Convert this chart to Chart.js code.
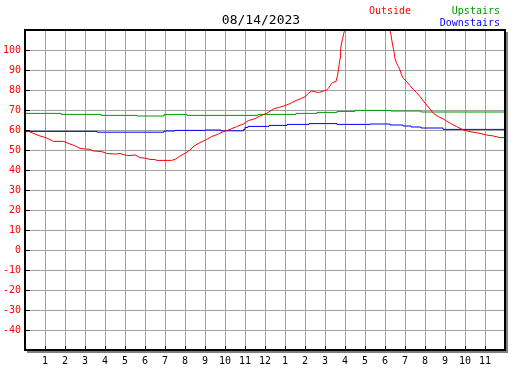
<!DOCTYPE html>
<html>
<head>
<meta charset="utf-8">
<title>08/14/2023</title>
<script src="https://cdn.jsdelivr.net/npm/chart.js@4"></script>
<style>
  body { margin: 0; background: #fff; }
  #wrap { position: relative; width: 527px; height: 370px; font-family: "DejaVu Sans Mono", monospace; }
  canvas { display: block; }
  #title { position: absolute; left: 0; width: 522px; top: 12px; text-align: center; font-size: 13px; line-height: 16px; color: #000; }
  .lg { position: absolute; font-size: 10px; line-height: 12px; }
</style>
</head>
<body>
<div id="wrap">
  <canvas id="chart" width="527" height="370"></canvas>
  <div id="title">08/14/2023</div>
  <div class="lg" style="left:369px; top:5px; color:#f00">Outside</div>
  <div class="lg" style="right:27px; top:5px; color:#090">Upstairs</div>
  <div class="lg" style="right:27px; top:17px; color:#00f">Downstairs</div>
</div>
<script>
// hour of day (0-24) and temperature
const outsideHours = [0, 0.2, 0.42, 0.6, 0.75, 0.9, 1.08, 1.25, 1.42, 1.6, 1.92, 2.1, 2.25, 2.42, 2.58, 2.75, 3, 3.25, 3.42, 3.6, 3.83,
  4.08, 4.3, 4.58, 4.75, 4.9, 5.08, 5.3, 5.5, 5.6, 5.75, 6, 6.25, 6.5, 6.6, 7, 7.33, 7.5, 7.75, 8, 8.25, 8.45, 8.75,
  9.08, 9.33, 9.67, 9.92, 10.25, 10.58, 10.92, 11.17, 11.5, 11.75, 12.08, 12.42, 12.67, 13, 13.25, 13.5, 13.75, 14,
  14.17, 14.33, 14.67, 14.92, 15.08, 15.17, 15.28, 15.38, 15.55, 15.63, 15.67, 15.75, 15.78, 15.88, 15.98, 16.1,
  16.5, 17, 17.5, 18, 18.2, 18.25, 18.3, 18.38, 18.45, 18.5, 18.58, 18.67, 18.75, 18.83, 18.92, 19.08, 19.25, 19.42,
  19.58, 19.75, 19.92, 20.08, 20.25, 20.42, 20.67, 20.92, 21.08, 21.33, 21.58, 21.92, 22.25, 22.75, 23.08, 23.42, 23.75, 24];
const outsideTemp = [60, 59.2, 58.3, 57.6, 57, 56.6, 56, 55.2, 54.3, 54.3, 54.3, 53.6, 53, 52.4, 51.7, 50.8, 50.5, 50.3, 49.5, 49.4, 49.2,
  48.3, 48.1, 48, 48.3, 47.8, 47.3, 47.2, 47.6, 47, 46.2, 45.9, 45.3, 45.2, 44.8, 44.8, 44.8, 45.3, 47, 48.3, 50, 52, 53.7,
  55.3, 56.7, 58, 59.2, 60.3, 61.7, 63, 64.7, 65.7, 67, 68.3, 70.5, 71.2, 72.2, 73.2, 74.5, 75.5, 76.7,
  78.3, 79.5, 78.7, 79.5, 80, 80.8, 82.5, 83.8, 84.2, 87.5, 90, 95.8, 100.8, 105.8, 110, 116,
  124, 128, 126, 118, 111, 110, 107.5, 102.5, 99.2, 95.8, 93.3, 91.7, 90, 87.5, 85.8, 84.2, 82.2, 80.3,
  78.7, 76.7, 74.5, 72.5, 70.5, 68.3, 66.7, 65.5, 64.5, 63, 61.7, 60, 59.2, 58.3, 57.5, 57, 56.2, 56.2];

const upstairsHours = [0, 1.8, 3.8, 5.6, 6.95, 7.3, 8.1, 11.65, 13.55, 14.6, 15.6, 16.5, 18.3, 19.8, 21.1, 24];
const upstairsTemp = [68.8, 68.3, 67.8, 67.3, 67, 67.7, 67.8, 67.3, 67.8, 68.3, 68.8, 69.3, 69.8, 69.5, 69, 69];

const downstairsHours = [0, 3.6, 6.95, 7.5, 9, 9.8, 10.93, 11, 11.15, 12.2, 13.1, 14.2, 15.6, 17.25, 18.25, 18.9, 19.3, 19.8, 20.9, 23.25, 24];
const downstairsTemp = [59.8, 59.3, 58.9, 59.5, 59.8, 60, 59.6, 60.3, 61.3, 61.8, 62.3, 62.8, 63.2, 62.8, 63, 62.5, 62, 61.5, 61, 60.3, 60.3];

const hourLabels = ["", "1", "2", "3", "4", "5", "6", "7", "8", "9", "10", "11", "12",
  "1", "2", "3", "4", "5", "6", "7", "8", "9", "10", "11", ""];
const tempTicks = [-40, -30, -20, -10, 0, 10, 20, 30, 40, 50, 60, 70, 80, 90, 100];

const mono = { family: "DejaVu Sans Mono", size: 10 };

function points(hours, temps) {
  return hours.map((h, i) => ({ x: h, y: temps[i] }));
}

// black frame with grey drop shadow and short inward tick marks
const frame = {
  id: "frame",
  afterDraw(chart) {
    const { ctx, chartArea: a, scales: { x, y } } = chart;
    ctx.save();
    ctx.fillStyle = "#808080";
    ctx.fillRect(a.right + 1, a.top + 2, 2, a.bottom - a.top + 1);
    ctx.fillRect(a.left + 2, a.bottom + 1, a.right - a.left + 1, 2);
    ctx.strokeStyle = "#000";
    ctx.lineWidth = 2;
    ctx.strokeRect(a.left, a.top, a.right - a.left, a.bottom - a.top);
    ctx.lineWidth = 1;
    ctx.beginPath();
    tempTicks.forEach((v) => {
      const py = Math.round(y.getPixelForValue(v)) + 0.5;
      ctx.moveTo(a.left, py);
      ctx.lineTo(a.left + 5, py);
    });
    for (let h = 1; h < 24; h++) {
      const px = Math.round(x.getPixelForValue(h)) + 0.5;
      ctx.moveTo(px, a.bottom);
      ctx.lineTo(px, a.bottom - 4);
    }
    ctx.stroke();
    ctx.restore();
  },
};

new Chart(document.getElementById("chart").getContext("2d"), {
  type: "line",
  data: {
    datasets: [
      { label: "Outside", data: points(outsideHours, outsideTemp), borderColor: "#f00", borderWidth: 1, pointRadius: 0 },
      { label: "Upstairs", data: points(upstairsHours, upstairsTemp), borderColor: "#090", borderWidth: 1, pointRadius: 0, stepped: "after" },
      { label: "Downstairs", data: points(downstairsHours, downstairsTemp), borderColor: "#00f", borderWidth: 1, pointRadius: 0, stepped: "after" },
    ],
  },
  options: {
    responsive: false,
    animation: false,
    devicePixelRatio: 1,
    layout: { padding: { top: 30, right: 22, left: 0, bottom: 0 } },
    plugins: { legend: { display: false }, tooltip: { enabled: false } },
    scales: {
      x: {
        type: "linear",
        min: 0,
        max: 24,
        afterFit: (s) => { s.height = 20; },
        ticks: { stepSize: 1, autoSkip: false, maxRotation: 0, padding: 5, color: "#000", font: mono,
          callback: (v) => hourLabels[v] },
        grid: { color: "#a0a0a0", drawTicks: false },
        border: { display: false },
      },
      y: {
        min: -50,
        max: 110,
        afterFit: (s) => { s.width = 25; },
        ticks: { stepSize: 10, padding: 4, color: "#f00", font: mono,
          callback: (v) => (tempTicks.includes(v) ? String(v) : "") },
        grid: { color: "#a0a0a0", drawTicks: false },
        border: { display: false },
      },
    },
  },
  plugins: [frame],
});
</script>
</body>
</html>
